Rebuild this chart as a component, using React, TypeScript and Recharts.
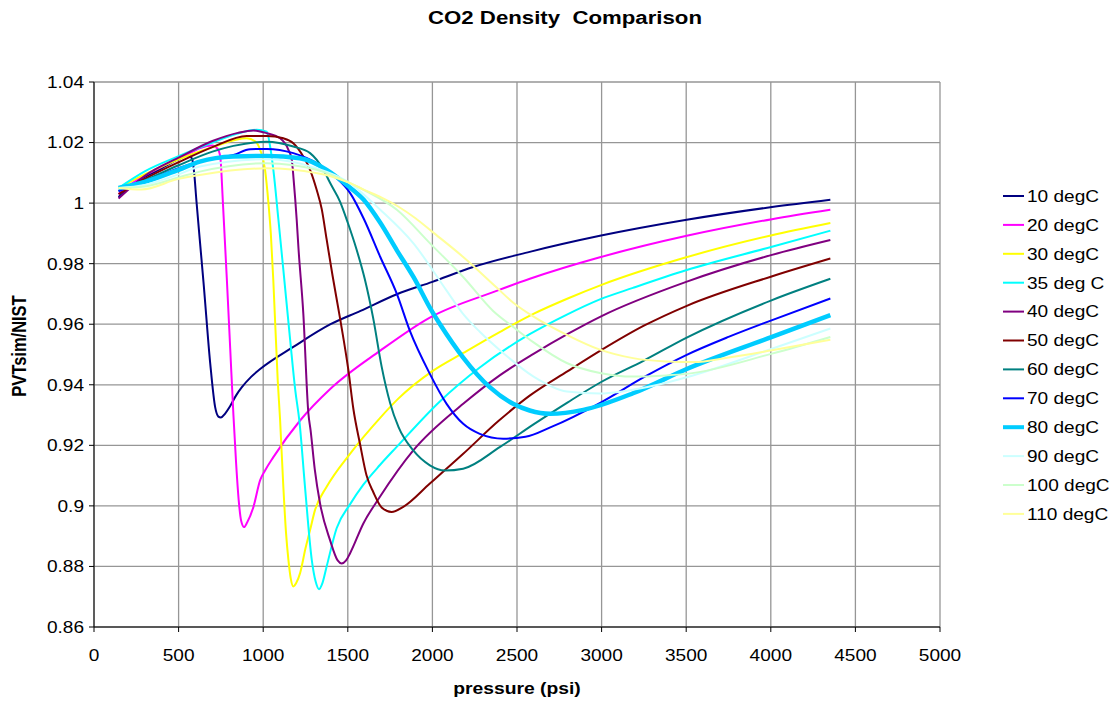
import { LineChart, Line, XAxis, YAxis, CartesianGrid, Legend } from 'recharts';

// pressure (psi) / PVTsim-to-NIST density ratio
const deg10: [number, number][] = [
  [145, 1.002], [250, 1.007], [400, 1.0115], [500, 1.0145], [560, 1.0158], [580, 1.0145], [592, 1.01],
  [605, 1.001], [625, 0.988], [647, 0.974], [687, 0.947], [716, 0.9326], [735, 0.9295], [750, 0.9292],
  [775, 0.9305], [805, 0.933], [840, 0.9365], [874, 0.9392], [930, 0.9427], [982, 0.9452], [1178, 0.9525],
  [1398, 0.96], [1575, 0.9644], [1790, 0.9699], [2000, 0.974], [2241, 0.9789], [2575, 0.9839],
  [2990, 0.9892], [3503, 0.9945], [4007, 0.9987], [4352, 1.0011],
];
const deg20: [number, number][] = [
  [145, 1.003], [250, 1.0075], [400, 1.012], [550, 1.016], [628, 1.0182], [700, 1.019], [730, 1.018],
  [746, 1.0155], [762, 1.0], [785, 0.975], [805, 0.952], [824, 0.93], [840, 0.914], [855, 0.902],
  [870, 0.895], [887, 0.893], [905, 0.8945], [942, 0.8996], [982, 0.9085], [1011, 0.9117], [1060, 0.9161],
  [1218, 0.9282], [1396, 0.9386], [1690, 0.9512], [1985, 0.9622], [2379, 0.971], [2576, 0.975],
  [2990, 0.9821], [3503, 0.9892], [4007, 0.9947], [4352, 0.9978],
];
const deg30: [number, number][] = [
  [145, 1.005], [300, 1.0095], [500, 1.0145], [700, 1.0185], [903, 1.0214], [950, 1.0205], [982, 1.0176],
  [1011, 1.011], [1031, 1.0], [1045, 0.99], [1060, 0.9742], [1086, 0.9413], [1100, 0.9282], [1119, 0.9063],
  [1135, 0.891], [1149, 0.8822], [1163, 0.876], [1178, 0.8734], [1195, 0.8745], [1218, 0.8778],
  [1250, 0.886], [1277, 0.892], [1306, 0.8986], [1375, 0.9063], [1513, 0.9172], [1690, 0.929],
  [1800, 0.9355], [2000, 0.9445], [2182, 0.9505], [2400, 0.9575], [2600, 0.9635], [2800, 0.9685],
  [3000, 0.973], [3500, 0.9821], [4000, 0.9893], [4352, 0.9934],
];
const deg35: [number, number][] = [
  [145, 1.005], [300, 1.0105], [500, 1.0155], [700, 1.02], [850, 1.023], [962, 1.0242], [1021, 1.0236],
  [1041, 1.0187], [1060, 1.011], [1090, 0.9945], [1119, 0.978], [1159, 0.955], [1190, 0.938],
  [1214, 0.928], [1247, 0.9063], [1287, 0.8822], [1310, 0.875], [1330, 0.8725], [1350, 0.8745],
  [1375, 0.88], [1434, 0.8926], [1513, 0.9005], [1592, 0.907], [1690, 0.9135], [1789, 0.9195],
  [2044, 0.9345], [2280, 0.9457], [2575, 0.9567], [2792, 0.9631], [2990, 0.9682], [3185, 0.972],
  [3503, 0.9779], [4007, 0.9856], [4352, 0.9909],
];
const deg40: [number, number][] = [
  [145, 1.0015], [300, 1.009], [500, 1.015], [700, 1.0205], [850, 1.0232], [942, 1.024], [1021, 1.0231],
  [1100, 1.0214], [1149, 1.0176], [1169, 1.0143], [1180, 1.0077], [1198, 0.9945], [1208, 0.9855],
  [1237, 0.9636], [1267, 0.9306], [1280, 0.925], [1305, 0.912], [1336, 0.9008], [1395, 0.8887],
  [1440, 0.882], [1464, 0.881], [1490, 0.882], [1513, 0.8843], [1592, 0.8942], [1690, 0.903],
  [1887, 0.9183], [2182, 0.9337], [2400, 0.9432], [2600, 0.9503], [2800, 0.9568], [3000, 0.9627],
  [3500, 0.974], [4007, 0.9829], [4352, 0.9878],
];
const deg50: [number, number][] = [
  [145, 1.003], [300, 1.008], [500, 1.0135], [700, 1.0185], [903, 1.0222], [1021, 1.0222], [1119, 1.0214],
  [1178, 1.0198], [1237, 1.0154], [1277, 1.011], [1316, 1.0044], [1346, 0.998], [1375, 0.988],
  [1410, 0.976], [1454, 0.962], [1503, 0.945], [1533, 0.932], [1572, 0.9205], [1611, 0.91],
  [1651, 0.9045], [1700, 0.8995], [1759, 0.898], [1828, 0.8997], [1985, 0.9074], [2182, 0.9172],
  [2390, 0.928], [2575, 0.9364], [2800, 0.9445], [3000, 0.9515], [3250, 0.9595], [3500, 0.966],
  [4000, 0.9757], [4352, 0.9817],
];
const deg60: [number, number][] = [
  [145, 1.004], [300, 1.0075], [500, 1.0125], [700, 1.017], [824, 1.0189], [1021, 1.0203], [1178, 1.0187],
  [1277, 1.0165], [1356, 1.011], [1395, 1.0067], [1454, 1.0005], [1500, 0.9935], [1550, 0.985],
  [1600, 0.975], [1650, 0.962], [1700, 0.946], [1750, 0.934], [1800, 0.926], [1887, 0.9183],
  [1985, 0.9134], [2074, 0.9117], [2182, 0.9123], [2400, 0.9195], [2600, 0.927], [2800, 0.9342],
  [3000, 0.941], [3250, 0.948], [3500, 0.9555], [4000, 0.9678], [4352, 0.975],
];
const deg70: [number, number][] = [
  [145, 1.004], [300, 1.007], [500, 1.0115], [700, 1.0148], [824, 1.0159], [923, 1.0178], [1021, 1.0179],
  [1178, 1.0165], [1316, 1.0132], [1395, 1.01], [1435, 1.0082], [1514, 1.0033], [1593, 0.995],
  [1692, 0.9822], [1790, 0.97], [1867, 0.9578], [1985, 0.9436], [2084, 0.9337], [2182, 0.9271],
  [2280, 0.9238], [2418, 0.9222], [2550, 0.9228], [2700, 0.926], [3000, 0.9343], [3250, 0.9425],
  [3500, 0.9498], [3750, 0.9558], [4000, 0.9612], [4352, 0.9685],
];
const deg80: [number, number][] = [
  [145, 1.005], [300, 1.007], [500, 1.011], [625, 1.0137], [822, 1.0154], [1020, 1.0156], [1217, 1.0148],
  [1375, 1.011], [1494, 1.006], [1594, 1.0011], [1692, 0.9935], [1790, 0.9844], [1888, 0.9756],
  [1996, 0.9644], [2045, 0.96], [2182, 0.949], [2339, 0.9392], [2477, 0.9337], [2575, 0.9315],
  [2696, 0.9304], [2892, 0.9317], [3186, 0.9372], [3503, 0.9452], [4007, 0.9558], [4352, 0.963],
];
const deg90: [number, number][] = [
  [145, 1.005], [300, 1.006], [500, 1.0095], [625, 1.0121], [1020, 1.0145], [1316, 1.0115], [1496, 1.0072],
  [1692, 0.9978], [1888, 0.9867], [2084, 0.9711], [2180, 0.9635], [2280, 0.9575], [2418, 0.9505],
  [2598, 0.9427], [2794, 0.9378], [2990, 0.9371], [3284, 0.9394], [3503, 0.9425], [4007, 0.9519],
  [4352, 0.9586],
];
const deg100: [number, number][] = [
  [145, 1.005], [300, 1.0055], [500, 1.0085], [625, 1.0104], [1020, 1.0132], [1316, 1.011], [1514, 1.0066],
  [1594, 1.0044], [1790, 0.9978], [1986, 0.9867], [2182, 0.9756], [2359, 0.9644], [2480, 0.959],
  [2598, 0.954], [2794, 0.9472], [2990, 0.9439], [3186, 0.9427], [3382, 0.9431], [3503, 0.9436],
  [4007, 0.9503], [4352, 0.9558],
];
const deg110: [number, number][] = [
  [145, 1.005], [280, 1.0045], [500, 1.008], [625, 1.0093], [1020, 1.0115], [1316, 1.0099], [1398, 1.0089],
  [1514, 1.0066], [1600, 1.0043], [1700, 1.0018], [1800, 0.9988], [1900, 0.995], [2000, 0.9905],
  [2182, 0.9822], [2378, 0.9722], [2480, 0.967], [2598, 0.9625], [2794, 0.9565], [2990, 0.9516],
  [3186, 0.9488], [3382, 0.9477], [3543, 0.9475], [3750, 0.949], [4007, 0.9514], [4352, 0.9549],
];

const pressureTicks = [0, 500, 1000, 1500, 2000, 2500, 3000, 3500, 4000, 4500, 5000];
const ratioTicks = [0.86, 0.88, 0.9, 0.92, 0.94, 0.96, 0.98, 1, 1.02, 1.04];

const series = [
  { name: '10 degC', color: '#000080', width: 2, pts: deg10 },
  { name: '20 degC', color: '#ff00ff', width: 2, pts: deg20 },
  { name: '30 degC', color: '#ffff00', width: 2, pts: deg30 },
  { name: '35 deg C', color: '#00ffff', width: 2, pts: deg35 },
  { name: '40 degC', color: '#800080', width: 2, pts: deg40 },
  { name: '50 degC', color: '#800000', width: 2, pts: deg50 },
  { name: '60 degC', color: '#008080', width: 2, pts: deg60 },
  { name: '70 degC', color: '#0000ff', width: 2, pts: deg70 },
  { name: '80 degC', color: '#00ccff', width: 4.5, pts: deg80 },
  { name: '90 degC', color: '#ccffff', width: 2, pts: deg90 },
  { name: '100 degC', color: '#ccffcc', width: 2, pts: deg100 },
  { name: '110 degC', color: '#ffff99', width: 2, pts: deg110 },
].map((s) => ({ ...s, data: s.pts.map(([p, v]) => ({ p, v })) }));

const FONT = 'Arial, "Liberation Sans", sans-serif';
const SX = 1.17; // the reference's text is stretched sideways

const fmt = (v: number) => String(Number(v.toFixed(2)));

function XTick({ x, y, payload }: any) {
  return (
    <g transform={`translate(${x},${y})`}>
      <text transform={`scale(${SX},1)`} textAnchor="middle" dy="0.71em" fontSize={16.3} fontFamily={FONT} fill="#000">
        {payload.value}
      </text>
    </g>
  );
}

function YTick({ x, y, payload }: any) {
  return (
    <g transform={`translate(${x},${y})`}>
      <text transform={`scale(${SX},1)`} textAnchor="end" dy="0.36em" fontSize={16.3} fontFamily={FONT} fill="#000">
        {fmt(payload.value)}
      </text>
    </g>
  );
}

function LegendBox({ payload }: any) {
  const items = [...(payload || [])].sort(
    (a: any, b: any) => series.findIndex((s) => s.name === a.value) - series.findIndex((s) => s.name === b.value),
  );
  return (
    <svg width={118} height={350}>
      {items.map((e: any, i: number) => {
        const y = 15 + i * 28.9;
        const s = series.find((d) => d.name === e.value);
        return (
          <g key={e.value}>
            <line x1={3} x2={24} y1={y} y2={y} stroke={e.color} strokeWidth={s && s.width > 3 ? 4 : 2} />
            <text transform={`translate(27,${y}) scale(${SX},1)`} dy="0.36em" fontSize={16.3} fontFamily={FONT} fill="#000">
              {e.value}
            </text>
          </g>
        );
      })}
    </svg>
  );
}

export default function App() {
  return (
    <div style={{ position: 'absolute', left: 0, top: 0, background: '#fff' }}>
      <LineChart width={1118} height={704} margin={{ top: 82, right: 178, bottom: 47, left: 0 }}>
        <CartesianGrid stroke="#969696" strokeWidth={1.3} />
        <XAxis
          type="number"
          dataKey="p"
          domain={[0, 5000]}
          ticks={pressureTicks}
          interval={0}
          height={30}
          stroke="#000"
          tickSize={5}
          tickMargin={17}
          tick={XTick}
        />
        <YAxis
          type="number"
          dataKey="v"
          domain={[0.86, 1.04]}
          ticks={ratioTicks}
          interval={0}
          width={94}
          stroke="#000"
          tickSize={5}
          tickMargin={5}
          tick={YTick}
        />
        {series.map((s) => (
          <Line
            key={s.name}
            data={s.data}
            dataKey="v"
            name={s.name}
            type="monotone"
            stroke={s.color}
            strokeWidth={s.width}
            dot={false}
            activeDot={false}
            isAnimationActive={false}
          />
        ))}
        <Legend
          layout="vertical"
          align="center"
          verticalAlign="middle"
          content={LegendBox}
          wrapperStyle={{ left: 1000, top: 181, width: 118 }}
        />
        <text
          transform={`translate(565,17) scale(${SX},1)`}
          textAnchor="middle"
          dominantBaseline="central"
          fontSize={19}
          fontWeight="bold"
          fontFamily={FONT}
          style={{ whiteSpace: 'pre' }}
        >
          CO2 Density  Comparison
        </text>
        <text
          transform={`translate(517,688) scale(${SX},1)`}
          textAnchor="middle"
          dominantBaseline="central"
          fontSize={16.5}
          fontWeight="bold"
          fontFamily={FONT}
        >
          pressure (psi)
        </text>
        <text
          transform={`translate(20,346) scale(${SX},1) rotate(-90)`}
          textAnchor="middle"
          dominantBaseline="central"
          fontSize={16.5}
          fontWeight="bold"
          fontFamily={FONT}
        >
          PVTsim/NIST
        </text>
      </LineChart>
    </div>
  );
}
